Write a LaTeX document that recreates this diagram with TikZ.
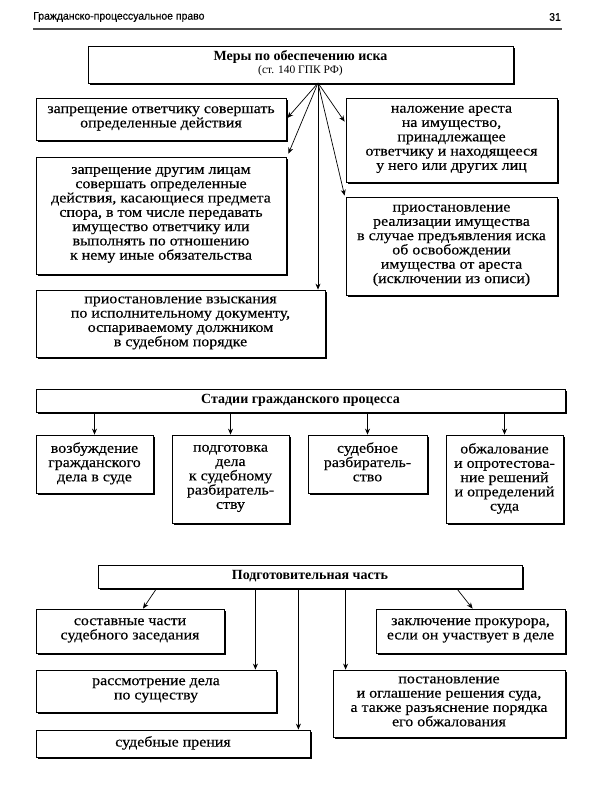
\documentclass[tikz,border=0pt]{standalone}
\usepackage{fontspec}
\setmainfont{Liberation Serif}
\newfontfamily\bodyfont[FakeStretch=1.1,FakeBold=0.35]{Liberation Serif}
\newfontfamily\headfont[FakeStretch=0.95,FakeBold=0.3]{Liberation Sans}
\usetikzlibrary{shadows,arrows.meta,calc}
\tikzset{
  box/.style={draw=black, fill=white, line width=0.8pt, inner sep=0pt, align=center,
    drop shadow={shadow xshift=1.6pt, shadow yshift=-1.6pt, fill=black, opacity=1},
    font=\bodyfont\fontsize{14.5}{14.3}\selectfont,
    execute at begin node=\strut, execute at end node=\strut},
  headbox/.style={box, font=\bfseries\fontsize{14}{14}\selectfont},
  arr/.style={line width=0.7pt, -{Stealth[length=6pt,width=5pt]}},
}
\begin{document}
\begin{tikzpicture}[x=1pt,y=-1pt]
\useasboundingbox[fill=white] (0,0) rectangle (600,800);
% page header
\node[anchor=west, inner sep=0pt, font=\headfont\fontsize{11}{13}\selectfont] (hd) at (33,17) {Гражданско-процессуальное право};
\node[anchor=east, inner sep=0pt, font=\headfont\fontsize{11}{13}\selectfont] (pg) at (561,17) {31};
\draw[line width=1.3pt, black!70] (33,29) coordinate (r1) -- (562,29) coordinate (r2);

% measures
\node[box, minimum width=425pt, minimum height=37pt, font=\fontsize{14}{14}\selectfont] (top) at (300.5,64.5)
  {\textbf{Меры по обеспечению иска}\\[-1pt]{\fontsize{11.5}{13}\selectfont (ст. 140 ГПК РФ)}};
\node[box, minimum width=250pt, minimum height=42pt] (b1) at (161,119)
  {запрещение ответчику совершать\\определенные действия};
\node[box, minimum width=250pt, minimum height=117pt] (b2) at (161,215.5)
  {запрещение другим лицам\\совершать определенные\\действия, касающиеся предмета\\спора, в том числе передавать\\имущество ответчику или\\выполнять по отношению\\к нему иные обязательства};
\node[box, minimum width=211pt, minimum height=84pt] (b3) at (451.5,140)
  {наложение ареста\\на имущество,\\принадлежащее\\ответчику и находящееся\\у него или других лиц};
\node[box, minimum width=211pt, minimum height=98pt] (b4) at (451.5,246)
  {приостановление\\реализации имущества\\в случае предъявления иска\\об освобождении\\имущества от ареста\\(исключении из описи)};
\node[box, minimum width=289pt, minimum height=67pt] (b5) at (180.5,323.5)
  {приостановление взыскания\\по исполнительному документу,\\оспариваемому должником\\в судебном порядке};

\coordinate (f) at (318,83);
\draw[arr] (f) -- ($(b1.east)+(1,-1)$);
\draw[arr] (f) -- ($(b2.north east)+(2,-3)$);
\draw[arr] (f) -- (f |- b5.north);
\draw[arr] (f) -- ($(b3.north west)+(-1,24)$);
\draw[arr] (f) -- ($(b4.north west)+(-1,-1)$);

% stages
\node[headbox, minimum width=529pt, minimum height=23pt] (st) at (300.5,400.5) {Стадии гражданского процесса};
\node[box, minimum width=117pt, minimum height=58pt] (s1) at (94.5,464) {возбуждение\\гражданского\\дела в суде};
\node[box, minimum width=117pt, minimum height=88pt] (s2) at (230.5,479) {подготовка\\дела\\к судебному\\разбиратель-\\ству};
\node[box, minimum width=119pt, minimum height=58pt] (s3) at (367.5,464) {судебное\\разбиратель-\\ство};
\node[box, minimum width=117pt, minimum height=88pt] (s4) at (504.5,479) {обжалование\\и опротестова-\\ние решений\\и определений\\суда};
\foreach \n in {s1,s2,s3,s4} \draw[arr] (\n.north |- st.south) -- (\n.north);

% preparatory part
\node[headbox, minimum width=424pt, minimum height=23pt] (pr) at (310,576.5) {Подготовительная часть};
\node[box, minimum width=188pt, minimum height=44pt] (p1) at (130,631) {составные части\\судебного заседания};
\node[box, minimum width=240pt, minimum height=42pt] (p2) at (156,691) {рассмотрение дела\\по существу};
\node[box, minimum width=274pt, minimum height=27pt] (p3) at (173,743.5) {судебные прения};
\node[box, minimum width=189pt, minimum height=44pt] (p4) at (470.5,631) {заключение прокурора,\\если он участвует в деле};
\node[box, minimum width=232pt, minimum height=67pt] (p5) at (449,703.5) {постановление\\и оглашение решения суда,\\а также разъяснение порядка\\его обжалования};

\draw[arr] ($(pr.south west)+(59,0)$) -- ($(p1.north)+(13,0)$);
\coordinate (t2) at ($(p2.north east)+(-21,0)$);
\draw[arr] (t2 |- pr.south) -- (t2);
\coordinate (t3) at ($(p3.north east)+(-12,0)$);
\draw[arr] (t3 |- pr.south) -- (t3);
\coordinate (t5) at ($(p5.north west)+(13,0)$);
\draw[arr] (t5 |- pr.south) -- (t5);
\draw[arr] ($(pr.south west)+(359,0)$) -- ($(p4.north west)+(97,0)$);
\end{tikzpicture}
\end{document}
